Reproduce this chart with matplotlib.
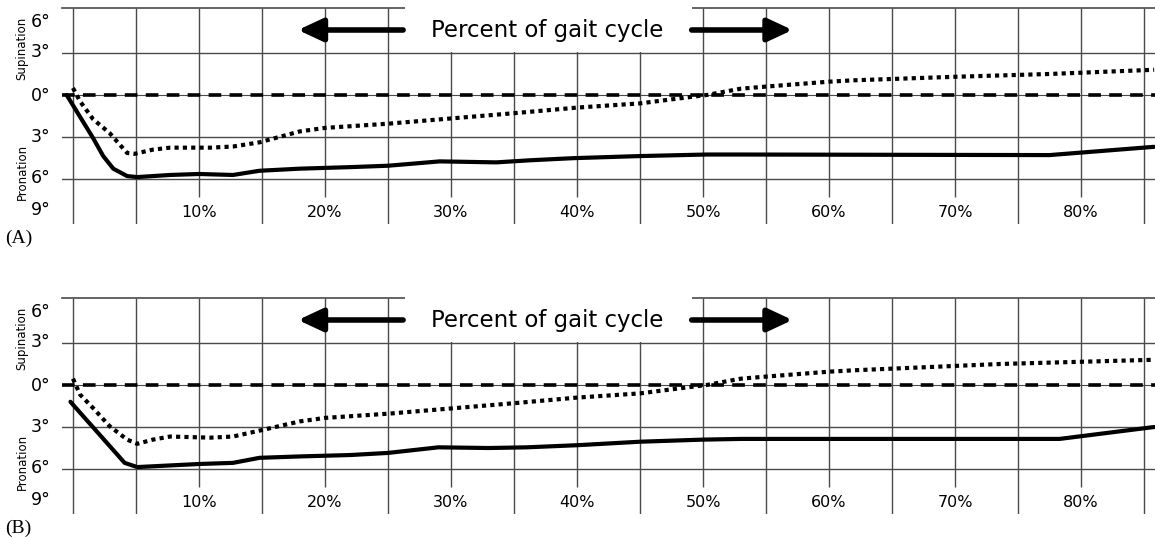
import matplotlib
matplotlib.use("Agg")
import matplotlib.pyplot as plt
from matplotlib.patches import Rectangle

# percent of gait cycle / degrees (supination +, pronation -)
a_solid_x = [-0.5, 1.6, 2.4, 3.2, 4.3, 5.1, 7.7, 10.0, 12.7, 14.8, 18.0, 22.0, 25.0, 27.0,
             29.1, 33.6, 36.3, 39.7, 45.0, 50.3, 53.0, 65.0, 77.5, 85.8]
a_solid_y = [0.0, -3.08, -4.36, -5.26, -5.79, -5.86, -5.71, -5.64, -5.71, -5.41, -5.26, -5.15, -5.05, -4.9,
             -4.74, -4.81, -4.66, -4.51, -4.36, -4.25, -4.25, -4.27, -4.29, -3.7]
a_dot_x = [0.0, 0.56, 1.6, 2.9, 4.3, 4.9, 6.35, 7.7, 10.9, 12.7, 14.8, 18.0, 20.0, 25.0, 29.0,
           35.0, 40.0, 45.0, 47.6, 50.3, 53.0, 55.0, 60.0, 62.0, 70.0, 77.5, 85.8]
a_dot_y = [0.5, -0.45, -1.73, -2.71, -4.14, -4.2, -3.9, -3.76, -3.76, -3.68, -3.38, -2.6, -2.35, -2.05, -1.75,
           -1.3, -0.9, -0.6, -0.3, 0.0, 0.45, 0.6, 0.95, 1.05, 1.3, 1.5, 1.8]

b_solid_x = [-0.2, 4.1, 5.1, 10.0, 12.7, 14.8, 18.0, 22.0, 25.0, 29.0, 33.0, 36.0, 40.0, 45.0,
             50.0, 53.0, 65.0, 78.3, 85.8]
b_solid_y = [-1.2, -5.56, -5.86, -5.64, -5.56, -5.2, -5.1, -5.0, -4.85, -4.45, -4.5, -4.45, -4.3, -4.05,
             -3.9, -3.85, -3.85, -3.85, -3.0]
b_dot_x = [0.0, 0.56, 1.6, 2.9, 4.3, 5.1, 6.35, 7.7, 10.9, 12.7, 14.6, 18.0, 20.0, 25.0, 29.0,
           35.0, 40.0, 45.0, 47.6, 50.3, 53.0, 55.0, 60.0, 62.0, 73.6, 85.8]
b_dot_y = [0.45, -0.68, -1.65, -2.93, -3.9, -4.2, -3.9, -3.68, -3.76, -3.68, -3.3, -2.6, -2.35, -2.05, -1.75,
           -1.3, -0.9, -0.6, -0.3, 0.0, 0.45, 0.6, 0.95, 1.05, 1.5, 1.8]

pct_ticks = [10, 20, 30, 40, 50, 60, 70, 80]
deg_ticks = [6, 3, 0, -3, -6, -9]
deg_labels = ["6°", "3°", "0°", "3°", "6°", "9°"]
deg_label_pos = [5.2, 3.1, -0.1, -3.0, -5.9, -8.2]

title = "Percent of gait cycle"
grid_color = "#4a4a4a"
xmin, xmax = -0.87, 85.87
ymin, ymax = -9.21, 6.21

fig = plt.figure(figsize=(11.55, 5.38), dpi=100)


def draw_panel(bottom, solid_x, solid_y, dot_x, dot_y, tag):
    ax = fig.add_axes([62 / 1155, bottom, 1093 / 1155, 216 / 538])
    ax.set_xlim(xmin, xmax)
    ax.set_ylim(ymin, ymax)
    ax.axis("off")

    # horizontal grid
    for y in [3, -3, -6]:
        ax.axhline(y, color=grid_color, lw=1.0, zorder=1)
    ax.axhline(ymax, color=grid_color, lw=1.2, zorder=1, clip_on=False)
    ax.axhline(0, color=grid_color, lw=0.8, zorder=1)
    ax.axhline(0, color="black", lw=2.6, linestyle=(0, (3.5, 2.3)), zorder=2)

    # vertical grid: every 5%, labelled ones stop short above their label
    for p in range(0, 90, 5):
        low = -7.29 if (p % 10 == 0 and p > 0) else ymin
        ax.vlines(p, low, ymax, color=grid_color, lw=1.0, zorder=1)
    for p in pct_ticks:
        ax.text(p, -8.36, f"{p}%", ha="center", va="center", fontsize=11.5,
                family="DejaVu Sans")
    for pos, lab in zip(deg_label_pos, deg_labels):
        ax.text(-0.87 - 1.7, pos, lab, ha="center", va="center", fontsize=12.5,
                family="DejaVu Sans", clip_on=False)

    ax.plot(solid_x, solid_y, color="black", lw=3.0, solid_capstyle="round", zorder=4)
    ax.plot(dot_x, dot_y, color="black", lw=3.0, linestyle=(0, (1, 1)), zorder=4)

    # title block with arrows
    ax.add_patch(Rectangle((26.35, 3.1), 49.13 - 26.35, 4.0, facecolor="white",
                           edgecolor="none", zorder=3, clip_on=False))
    ax.text(37.66, 4.14, title, ha="center", va="baseline", fontsize=16.5,
            family="DejaVu Sans", zorder=5)
    arrow = dict(arrowstyle="-|>,head_length=0.75,head_width=0.35", lw=4.0, color="black",
                 shrinkA=0, shrinkB=0, mutation_scale=20)
    ax.annotate("", xy=(17.86, 4.64), xytext=(26.2, 4.64), arrowprops=arrow, zorder=5)
    ax.annotate("", xy=(57.1, 4.64), xytext=(49.1, 4.64), arrowprops=arrow, zorder=5)

    top_px = 538 - (bottom * 538 + 216)
    fig.text(22 / 1155, 1 - (top_px + 40) / 538, "Supination", rotation=90,
             ha="center", va="center", fontsize=8.5, family="DejaVu Sans")
    fig.text(22 / 1155, 1 - (top_px + 164) / 538, "Pronation", rotation=90,
             ha="center", va="center", fontsize=8.5, family="DejaVu Sans")
    fig.text(5 / 1155, 1 - (top_px + 230) / 538, tag, ha="left", va="center",
             fontsize=14, family="Liberation Serif")
    return ax


draw_panel(314 / 538, a_solid_x, a_solid_y, a_dot_x, a_dot_y, "(A)")
draw_panel(24 / 538, b_solid_x, b_solid_y, b_dot_x, b_dot_y, "(B)")

fig.savefig("out.png", dpi=100, facecolor="white")
